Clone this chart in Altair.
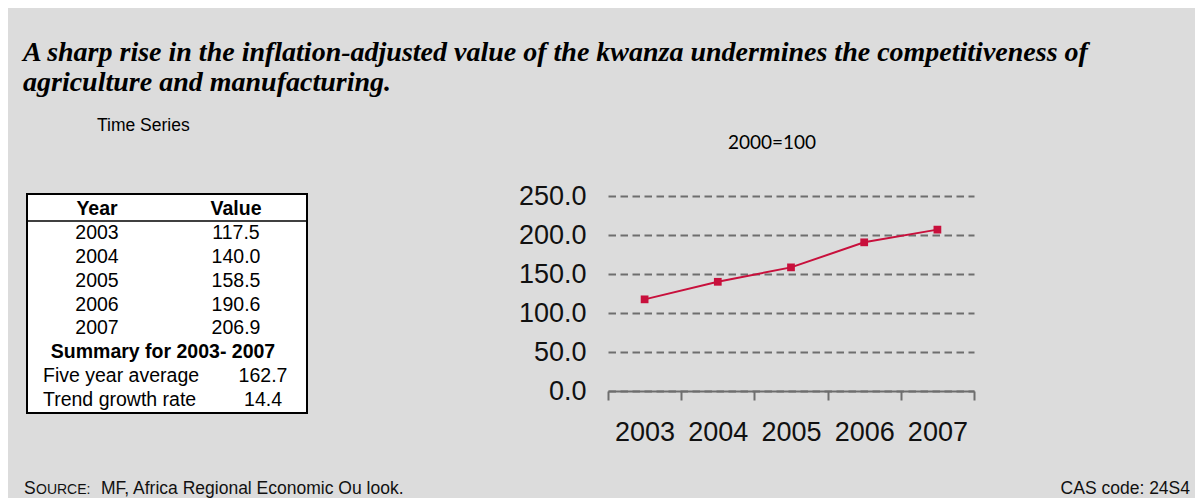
import altair as alt
import pandas as pd

# ---- data ----
years = ["2003", "2004", "2005", "2006", "2007"]
values = [117.5, 140.0, 158.5, 190.6, 206.9]
value_labels = ["117.5", "140.0", "158.5", "190.6", "206.9"]
summary_labels = ["Five year average", "Trend growth rate"]
summary_values = ["162.7", "14.4"]
table_header = ["Year", "Value"]
summary_title = "Summary for 2003- 2007"
title_lines = [
    "A sharp rise in the inflation-adjusted value of the kwanza undermines the competitiveness of",
    "agriculture and manufacturing.",
]
subtitle_left = "Time Series"
unit_label = "2000=100"
source_text = "MF, Africa Regional Economic Ou look."
cas_text = "CAS code: 24S4"

RED = "#c8103c"
W, H = 366, 195

df = pd.DataFrame({"year": years, "value": values})

xenc = alt.X(
    "year:O",
    scale=alt.Scale(type="band", paddingInner=0, paddingOuter=0),
    axis=alt.Axis(
        title=None, labelAngle=0, labelFontSize=27, labelFont="Liberation Sans",
        labelColor="#111", tickBand="extent", tickSize=9, tickColor="#6e6e6e",
        tickWidth=2, domainColor="#6e6e6e", domainWidth=2, labelPadding=19,
        grid=False,
    ),
)
yenc = alt.Y(
    "value:Q",
    scale=alt.Scale(domain=[0, 250]),
    axis=alt.Axis(
        title=None, values=[0, 50, 100, 150, 200, 250], format=".1f",
        labelFontSize=27, labelFont="Liberation Sans", labelColor="#111",
        labelPadding=22, domain=False, ticks=False, grid=True,
        gridDash=[7.5, 4.5], gridColor="#6e6e6e", gridWidth=1.8,
    ),
)

base = alt.Chart(df)
line = base.mark_line(color=RED, strokeWidth=2).encode(x=xenc, y=yenc)
pts = base.mark_point(shape="square", filled=True, size=60, color=RED, opacity=1).encode(x=xenc, y=yenc)
main = alt.layer(line, pts)

# ---- table ----
rows_df = pd.DataFrame({
    "row": list(range(1, 6)),
    "year": years,
    "val": value_labels,
})
hdr_df = pd.DataFrame({"row": [0, 0], "text": table_header, "col": [0, 1]})
sum_df = pd.DataFrame({"row": [7, 8], "label": summary_labels, "val": summary_values})
sumt_df = pd.DataFrame({"row": [6], "text": [summary_title]})

row_scale = alt.Scale(domain=[0, 8], range=[13, 204])
ry = alt.Y("row:Q", scale=row_scale, axis=None)

tf = dict(font="Liberation Sans", fontSize=19.5, color="#000", baseline="middle")

dummy = pd.DataFrame({"a": [0]})
box = alt.Chart(dummy).mark_rect(fill="white", stroke="black", strokeWidth=2).encode(
    x=alt.value(-581), x2=alt.value(-301), y=alt.value(-2), y2=alt.value(217)
)
hdr_rule = alt.Chart(dummy).mark_rule(color="black", strokeWidth=1.5).encode(
    x=alt.value(-581), x2=alt.value(-301), y=alt.value(25)
)
hdr_year = alt.Chart(hdr_df[hdr_df.col == 0]).mark_text(x=-511, align="center", fontWeight="bold", **tf).encode(y=ry, text="text:N")
hdr_val = alt.Chart(hdr_df[hdr_df.col == 1]).mark_text(x=-372, align="center", fontWeight="bold", **tf).encode(y=ry, text="text:N")
col_year = alt.Chart(rows_df).mark_text(x=-511, align="center", **tf).encode(y=ry, text="year:N")
col_val = alt.Chart(rows_df).mark_text(x=-372, align="center", **tf).encode(y=ry, text="val:N")
sum_title = alt.Chart(sumt_df).mark_text(x=-445, align="center", fontWeight="bold", **tf).encode(y=ry, text="text:N")
sum_lab = alt.Chart(sum_df).mark_text(x=-565, align="left", **tf).encode(y=ry, text="label:N")
sum_val = alt.Chart(sum_df).mark_text(x=-345, align="center", **tf).encode(y=ry, text="val:N")

# ---- annotations ----
tdf = pd.DataFrame({"line": [0, 1], "text": title_lines})
title = alt.Chart(tdf).mark_text(
    x=-585, align="left", baseline="alphabetic", font="Liberation Serif",
    fontSize=28, fontWeight="bold", fontStyle="italic", color="#000"
).encode(
    y=alt.Y("line:Q", scale=alt.Scale(domain=[0, 1], range=[-135, -105]), axis=None),
    text="text:N",
)
ts = alt.Chart(pd.DataFrame({"t": [subtitle_left]})).mark_text(
    x=-511, y=-70, align="left", baseline="middle", font="Liberation Sans", fontSize=17.5, color="#000"
).encode(text="t:N")
unit = alt.Chart(pd.DataFrame({"t": [unit_label]})).mark_text(
    x=164, y=-53, align="center", baseline="middle", font="Lato", fontSize=19, color="#000"
).encode(text="t:N")
src_s = alt.Chart(pd.DataFrame({"t": ["S"]})).mark_text(
    x=-584, y=293, align="left", baseline="middle", font="Liberation Sans", fontSize=17.5, color="#111"
).encode(text="t:N")
src_o = alt.Chart(pd.DataFrame({"t": ["OURCE:"]})).mark_text(
    x=-572, y=294, align="left", baseline="middle", font="Liberation Sans", fontSize=14, color="#111"
).encode(text="t:N")
src = alt.Chart(pd.DataFrame({"t": [source_text]})).mark_text(
    x=-507, y=293, align="left", baseline="middle", font="Liberation Sans", fontSize=17.5, color="#111"
).encode(text="t:N")
cas = alt.Chart(pd.DataFrame({"t": [cas_text]})).mark_text(
    x=582, y=293, align="right", baseline="middle", font="Liberation Sans", fontSize=17.5, color="#111"
).encode(text="t:N")

chart = alt.layer(
    main, box, hdr_rule, hdr_year, hdr_val, col_year, col_val, sum_title, sum_lab, sum_val,
    title, ts, unit, src_s, src_o, src, cas,
).resolve_scale(y="independent").properties(
    width=W, height=H,
    autosize=alt.AutoSizeParams(type="none"),
    padding={"left": 600, "top": 188, "right": 221, "bottom": 107},
    background="#dcdcdc",
).configure_view(fill="white", stroke=None)

chart.save("out.html", embed_options={"renderer": "svg", "actions": False})
